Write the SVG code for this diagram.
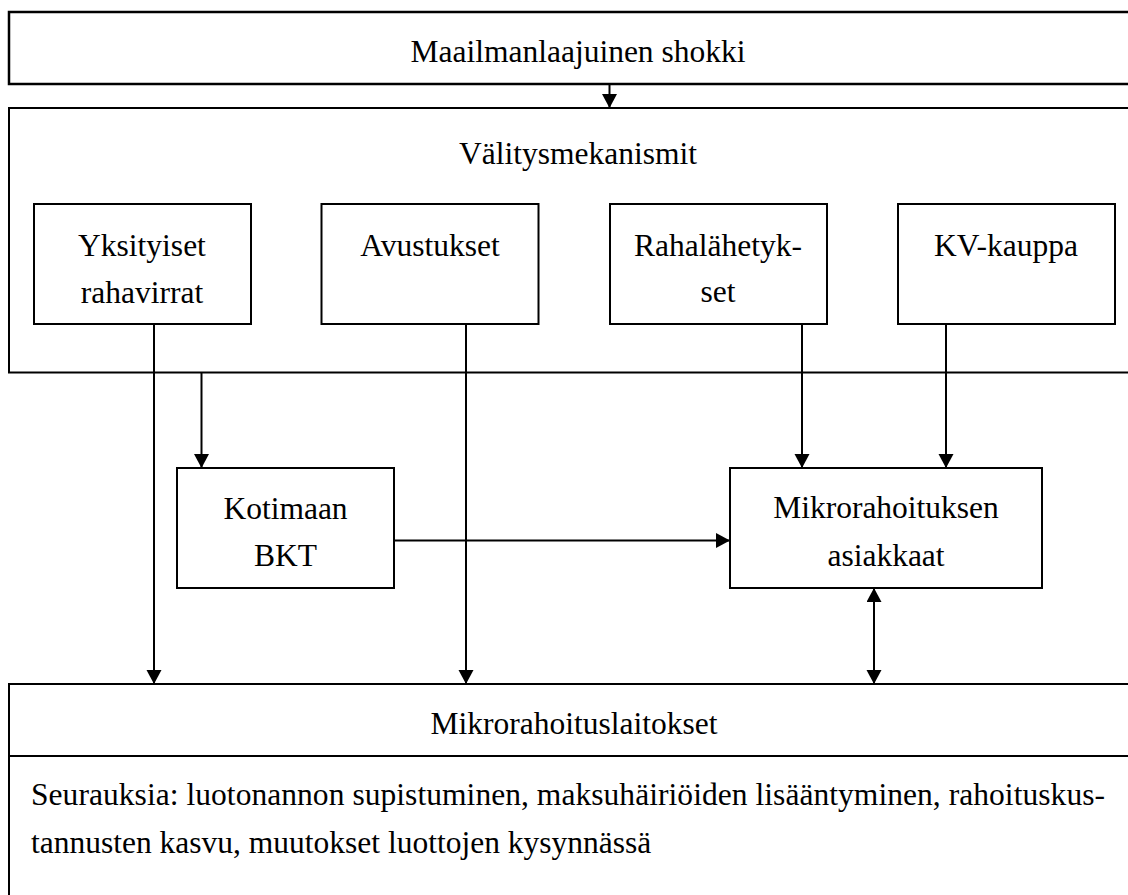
<svg xmlns="http://www.w3.org/2000/svg" width="1128" height="895" viewBox="0 0 1128 895">
<style>
.box{fill:#fff;stroke:#000;stroke-width:2}
.t{font-family:"Liberation Serif","Times New Roman",serif;font-size:31.5px;fill:#000;text-anchor:middle}
.tl{font-family:"Liberation Serif","Times New Roman",serif;font-size:31.5px;fill:#000}
.c{fill:none;stroke:#000;stroke-width:2}
</style>
<defs>
<marker id="ah" markerUnits="userSpaceOnUse" markerWidth="15" markerHeight="16" refX="14" refY="7.5" orient="auto-start-reverse" viewBox="0 0 15 16">
<path d="M0,0 L14,7.5 L0,15 z" fill="#000"/>
</marker>
</defs>
<rect width="1128" height="895" fill="#fff"/>
<g id="shokki">
<rect class="box" x="9" y="12" width="1140" height="72" style="stroke-width:2.5"/>
<text class="t" x="578" y="62">Maailmanlaajuinen shokki</text>
</g>
<g id="valitys">
<rect class="box" x="9" y="108" width="1140" height="264.5"/>
<text class="t" x="578" y="164">Välitysmekanismit</text>
</g>
<g id="yksityiset">
<rect class="box" x="34" y="204" width="217" height="120"/>
<text class="t" x="142" y="256">Yksityiset</text>
<text class="t" x="142" y="303">rahavirrat</text>
</g>
<g id="avustukset">
<rect class="box" x="321.5" y="204" width="217" height="120"/>
<text class="t" x="430" y="256">Avustukset</text>
</g>
<g id="rahalahetykset">
<rect class="box" x="610" y="204" width="217" height="120"/>
<text class="t" x="718" y="256">Rahalähetyk-</text>
<text class="t" x="718" y="302">set</text>
</g>
<g id="kvkauppa">
<rect class="box" x="898" y="204" width="217" height="120"/>
<text class="t" x="1006" y="256">KV-kauppa</text>
</g>
<g id="kotimaan">
<rect class="box" x="177" y="468" width="217" height="120"/>
<text class="t" x="285.5" y="519">Kotimaan</text>
<text class="t" x="285.5" y="566">BKT</text>
</g>
<g id="asiakkaat">
<rect class="box" x="730" y="468" width="312" height="120"/>
<text class="t" x="886" y="518">Mikrorahoituksen</text>
<text class="t" x="886" y="566">asiakkaat</text>
</g>
<g id="laitokset">
<rect class="box" x="9" y="684" width="1140" height="240"/>
<line class="c" x1="9" y1="756" x2="1149" y2="756"/>
<text class="t" x="574" y="734">Mikrorahoituslaitokset</text>
<text class="tl" x="31" y="805" textLength="1074" lengthAdjust="spacing">Seurauksia: luotonannon supistuminen, maksuhäiriöiden lisääntyminen, rahoituskus-</text>
<text class="tl" x="31" y="853">tannusten kasvu, muutokset luottojen kysynnässä</text>
</g>
<g id="connectors">
<line class="c" x1="609.5" y1="84" x2="609.5" y2="108" marker-end="url(#ah)"/>
<line class="c" x1="154" y1="324" x2="154" y2="684" marker-end="url(#ah)"/>
<line class="c" x1="466" y1="324" x2="466" y2="684" marker-end="url(#ah)"/>
<line class="c" x1="802" y1="324" x2="802" y2="468" marker-end="url(#ah)"/>
<line class="c" x1="946" y1="324" x2="946" y2="468" marker-end="url(#ah)"/>
<line class="c" x1="201.5" y1="372.5" x2="201.5" y2="468" marker-end="url(#ah)"/>
<line class="c" x1="394" y1="540.5" x2="730" y2="540.5" marker-end="url(#ah)"/>
<line class="c" x1="874" y1="588" x2="874" y2="684" marker-start="url(#ah)" marker-end="url(#ah)"/>
</g>
</svg>
